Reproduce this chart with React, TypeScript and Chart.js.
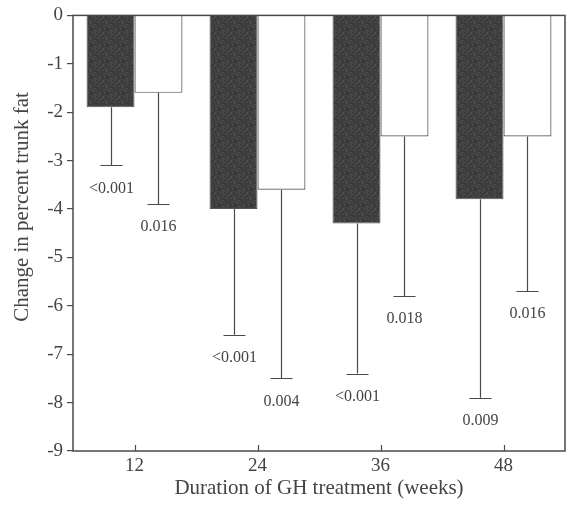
import React, { useEffect, useRef } from "react";
import { Chart, registerables } from "chart.js";

Chart.register(...registerables);

const categories = ["12", "24", "36", "48"];
const gh12Values = [-1.9, -4.0, -4.3, -3.8]; // dark bars
const gh12Lower = [-3.1, -6.6, -7.4, -7.9]; // error bar ends
const gh12P = ["<0.001", "<0.001", "<0.001", "0.009"];
const openValues = [-1.6, -3.6, -2.5, -2.5]; // white bars
const openLower = [-3.9, -7.5, -5.8, -5.7];
const openP = ["0.016", "0.004", "0.018", "0.016"];
const yTicks = [0, -1, -2, -3, -4, -5, -6, -7, -8, -9];

const xTitle = "Duration of GH treatment (weeks)";
const yTitle = "Change in percent trunk fat";

const FONT = '"Liberation Serif", "Times New Roman", serif';
const INK = "#4a4a4a";

function makeDarkPattern(): CanvasPattern | string {
  const c = document.createElement("canvas");
  c.width = 16;
  c.height = 16;
  const ctx = c.getContext("2d");
  if (!ctx) return "#3c3c3c";
  for (let y = 0; y < 16; y++) {
    for (let x = 0; x < 16; x++) {
      const h = ((x * 73856093) ^ (y * 19349663)) >>> 0;
      const v = 50 + (h % 29);
      ctx.fillStyle = `rgb(${v},${v},${v})`;
      ctx.fillRect(x, y, 1, 1);
    }
  }
  const p = ctx.createPattern(c, "repeat");
  return p || "#3c3c3c";
}

const errorPlugin = {
  id: "errorsAndFrame",
  afterDatasetsDraw(chart: any) {
    const ctx = chart.ctx;
    const yScale = chart.scales.y;
    const xScale = chart.scales.x;
    const area = chart.chartArea;
    const lowers = [gh12Lower, openLower];
    const pvals = [gh12P, openP];
    ctx.save();
    ctx.strokeStyle = INK;
    ctx.lineWidth = 1.2;
    chart.data.datasets.forEach((ds: any, di: number) => {
      const meta = chart.getDatasetMeta(di);
      meta.data.forEach((bar: any, i: number) => {
        const x = Math.round(bar.x) + 0.5;
        const yTop = bar.y;
        const yLow = yScale.getPixelForValue(lowers[di][i]);
        ctx.beginPath();
        ctx.moveTo(x, yTop);
        ctx.lineTo(x, yLow);
        ctx.moveTo(x - 11, Math.round(yLow) + 0.5);
        ctx.lineTo(x + 11, Math.round(yLow) + 0.5);
        ctx.stroke();
        ctx.fillStyle = "#444";
        ctx.font = `16px ${FONT}`;
        ctx.textAlign = "center";
        ctx.textBaseline = "middle";
        ctx.fillText(pvals[di][i], x, yLow + 23);
      });
    });
    // frame
    ctx.strokeStyle = INK;
    ctx.lineWidth = 1.5;
    ctx.strokeRect(area.left, area.top, area.right - area.left, area.bottom - area.top);
    // inward x ticks
    ctx.lineWidth = 1.2;
    categories.forEach((_c, i) => {
      const x = Math.round(xScale.getPixelForValue(i)) + 0.5;
      ctx.beginPath();
      ctx.moveTo(x, area.bottom);
      ctx.lineTo(x, area.bottom - 6);
      ctx.stroke();
    });
    // titles
    ctx.fillStyle = "#444";
    ctx.font = `21px ${FONT}`;
    ctx.textAlign = "center";
    ctx.textBaseline = "middle";
    ctx.fillText(xTitle, (area.left + area.right) / 2, 488);
    ctx.translate(22, 207);
    ctx.rotate(-Math.PI / 2);
    ctx.fillText(yTitle, 0, 0);
    ctx.restore();
  },
};

export default function App() {
  const ref = useRef<HTMLCanvasElement | null>(null);
  useEffect(() => {
    if (!ref.current) return;
    const dark = makeDarkPattern();
    const chart = new Chart(ref.current, {
      type: "bar",
      data: {
        labels: categories,
        datasets: [
          {
            label: "GH",
            data: gh12Values,
            backgroundColor: dark as any,
            borderColor: "#555",
            borderWidth: 1,
            categoryPercentage: 0.78,
            barPercentage: 1.0,
          },
          {
            label: "Open",
            data: openValues,
            backgroundColor: "#ffffff",
            borderColor: "#555",
            borderWidth: 1.2,
            categoryPercentage: 0.78,
            barPercentage: 1.0,
          },
        ],
      },
      options: {
        responsive: false,
        animation: false,
        layout: { padding: { top: 13, right: 1, left: 0, bottom: 0 } },
        plugins: {
          legend: { display: false },
          tooltip: { enabled: false },
          title: { display: false },
        },
        scales: {
          x: {
            grid: { display: false, drawTicks: false, tickLength: 0 },
            border: { display: false },
            ticks: {
              font: { family: FONT, size: 19 },
              color: "#444",
              padding: 4,
              maxRotation: 0,
            },
            afterFit: (s: any) => {
              s.height = 54;
            },
          },
          y: {
            min: -9,
            max: 0,
            afterBuildTicks: (s: any) => {
              s.ticks = yTicks.map((v) => ({ value: v }));
            },
            grid: {
              display: true,
              drawOnChartArea: false,
              drawTicks: true,
              tickLength: 6,
              color: INK,
              lineWidth: 1.2,
            },
            border: { display: false },
            ticks: {
              font: { family: FONT, size: 19 },
              color: "#444",
              padding: 4,
              callback: (v: any) => String(v),
            },
            afterFit: (s: any) => {
              s.width = 73;
            },
          },
        },
      },
      plugins: [errorPlugin],
    });
    return () => chart.destroy();
  }, []);
  return (
    <div style={{ position: "absolute", left: 0, top: 0, width: 566, height: 505, background: "#fff" }}>
      <canvas ref={ref} width={566} height={505} style={{ display: "block" }} />
    </div>
  );
}
